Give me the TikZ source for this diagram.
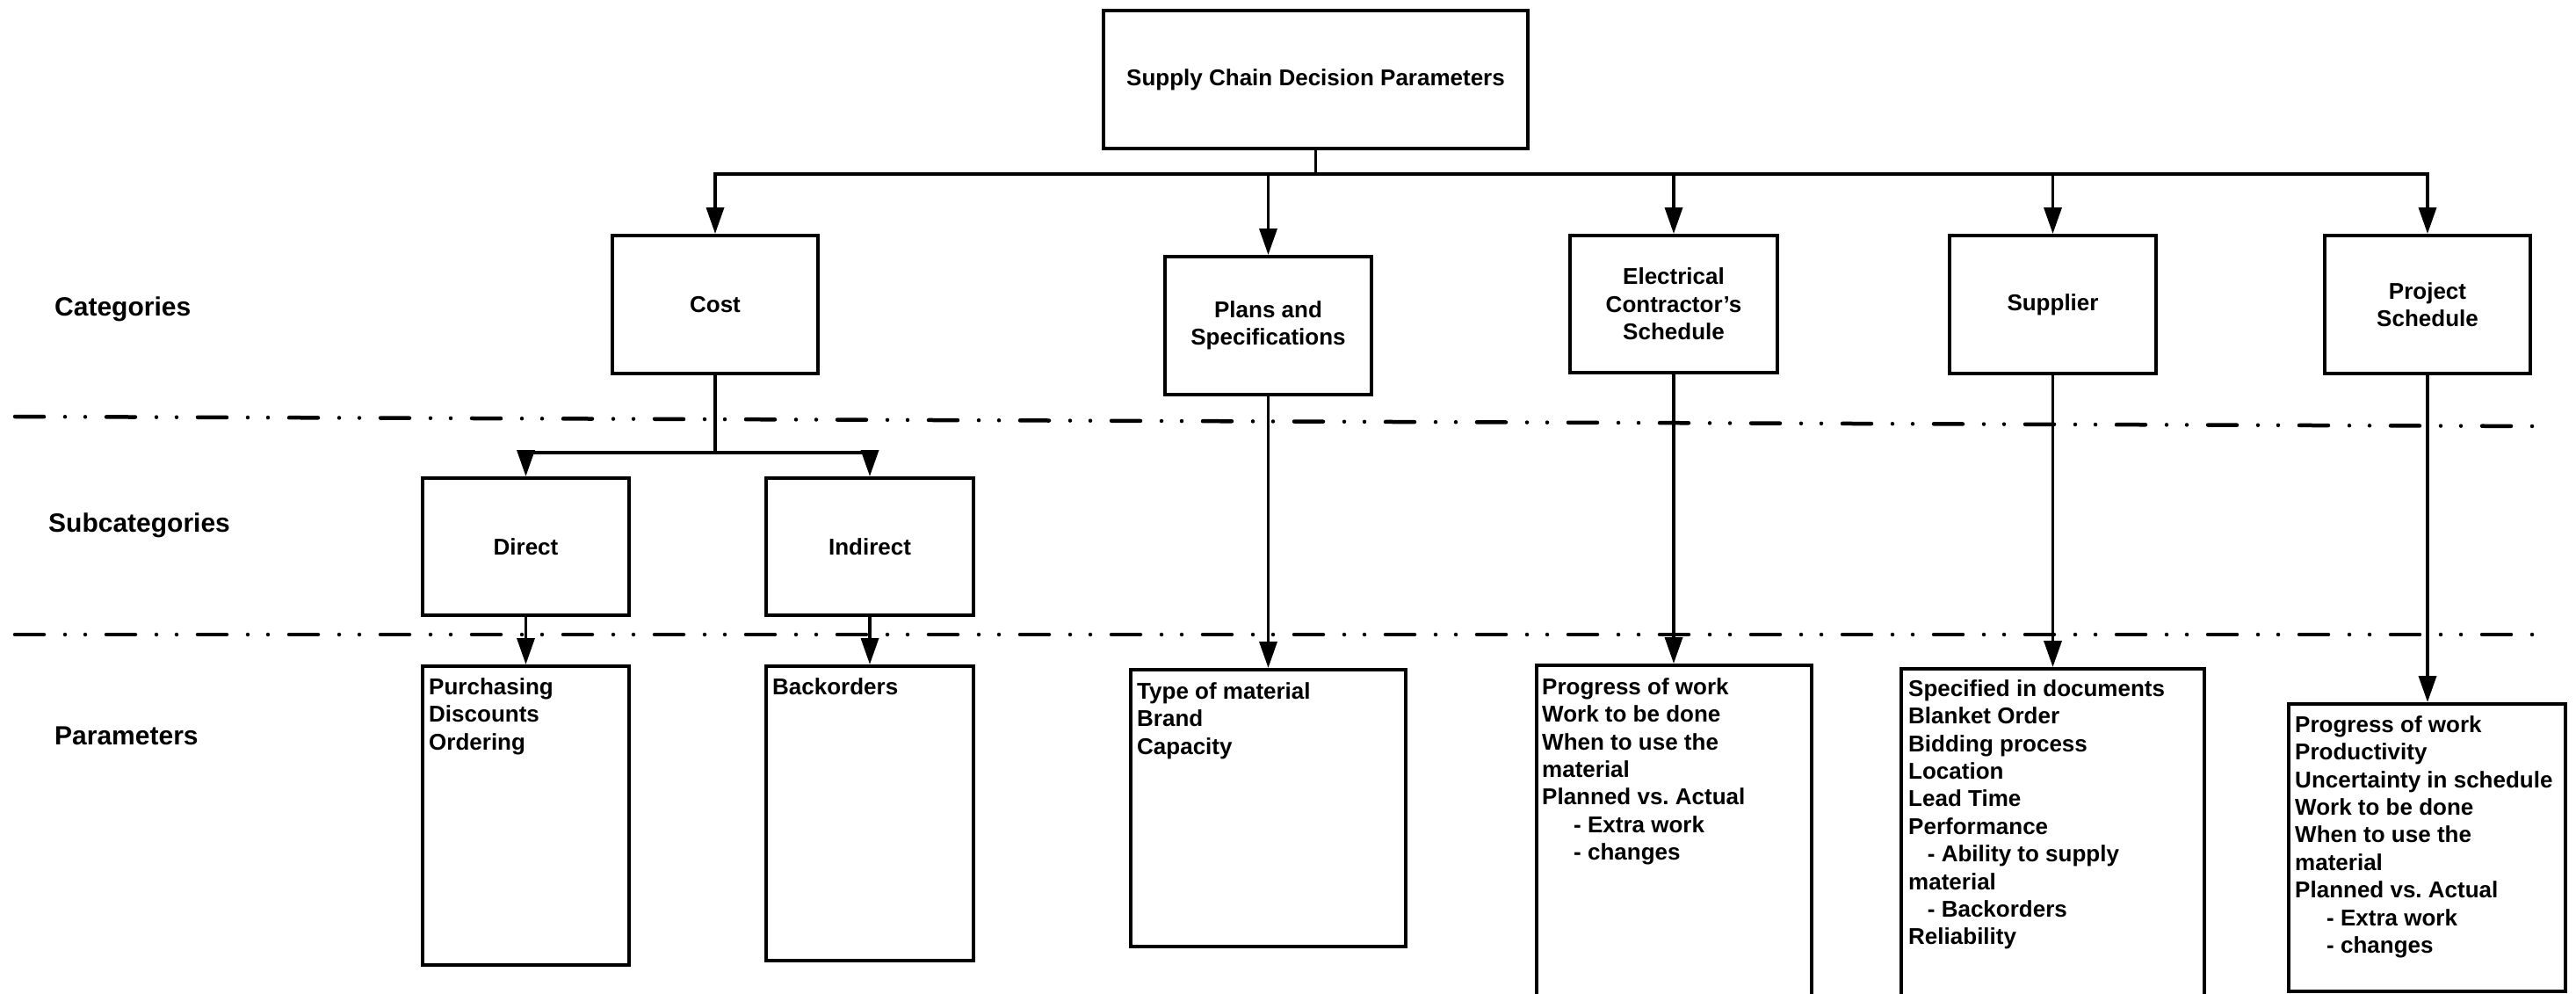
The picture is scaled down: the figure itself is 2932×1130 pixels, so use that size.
\documentclass[tikz,border=0pt]{standalone}
\usepackage{fontspec}
\setmainfont{Liberation Sans}
\usetikzlibrary{arrows.meta}
\frenchspacing
\newcommand{\fl}{\rule{0pt}{20pt}}
\tikzset{
  box/.style={draw, line width=4pt, rectangle, inner sep=0pt, align=center,
    font=\fontsize{26}{31.4}\selectfont\bfseries},
  ptxt/.style={inner sep=0pt, align=left, anchor=north west,
    font=\fontsize{26}{31.4}\selectfont\bfseries},
  lab/.style={inner sep=0pt, anchor=west, font=\fontsize{30}{36}\selectfont\bfseries},
  conn/.style={line width=3.5pt},
  tip/.tip={Triangle[width=20pt,length=30pt]},
  arr/.style={conn, -tip},
  darr/.style={conn, tip-tip},
  sep/.style={line width=4.5pt, line cap=round,
    dash pattern=on 33pt off 24pt on 0pt off 23pt on 0pt off 24pt},
}
\begin{document}
\begin{tikzpicture}[x=1pt, y=-1pt]
\useasboundingbox (0,0) rectangle (2932,1130);
\fill[white] (0,0) rectangle (2932,1130);
\clip (0,0) rectangle (2932,1130);

% separators
\coordinate (s1a) at (17,474);
\coordinate (s1b) at (2895,485);
\coordinate (s2a) at (17,722);
\coordinate (s2b) at (2895,722);
\draw[sep] (s1a) -- (s1b);
\draw[sep] (s2a) -- (s2b);

% row labels
\node[lab] (lcat) at (62,352) {Categories};
\node[lab] (lsub) at (55,598) {Subcategories};
\node[lab] (lpar) at (62,837) {Parameters};

% top
\node[box, minimum width=483pt, minimum height=157pt] (top) at (1497.5,90.5) {Supply Chain Decision Parameters};

% categories
\node[box, minimum width=234pt, minimum height=157pt] (cost) at (814,346.5) {Cost};
\node[box, minimum width=235pt, minimum height=157pt] (plans) at (1443.5,370.5) {Plans and\\Specifications};
\node[box, minimum width=236pt, minimum height=156pt] (elec) at (1905,346) {Electrical\\Contractor’s\\Schedule};
\node[box, minimum width=235pt, minimum height=157pt] (sup) at (2336.5,346.5) {Supplier};
\node[box, minimum width=234pt, minimum height=157pt] (proj) at (2763,346.5) {Project\\Schedule};

% subcategories
\node[box, minimum width=235pt, minimum height=156pt] (dir) at (598.5,622) {Direct};
\node[box, minimum width=236pt, minimum height=156pt] (ind) at (990,622) {Indirect};

% parameter boxes
\node[box, minimum width=235pt, minimum height=340pt] (pur) at (598.5,928) {};
\node[box, minimum width=236pt, minimum height=335pt] (back) at (990,925.5) {};
\node[box, minimum width=313pt, minimum height=315pt] (type) at (1443.5,919.5) {};
\node[box, minimum width=313pt, minimum height=403pt] (epar) at (1905.5,958.5) {};
\node[box, minimum width=345pt, minimum height=399pt] (spar) at (2336.5,960.5) {};
\node[box, minimum width=315pt, minimum height=327pt] (ppar) at (2762.5,964.5) {};

\node[ptxt] (tpur) at ([shift={(9,14)}]pur.north west) {\fl Purchasing\\Discounts\\Ordering};
\node[ptxt] (tback) at ([shift={(9,14)}]back.north west) {\fl Backorders};
\node[ptxt] (ttype) at ([shift={(9,15)}]type.north west) {\fl Type of material\\Brand\\Capacity};
\node[ptxt] (tepar) at ([shift={(8,15)}]epar.north west) {\fl Progress of work\\Work to be done\\When to use the\\material\\Planned vs. Actual\\\hspace*{36pt}- Extra work\\\hspace*{36pt}- changes};
\node[ptxt] (tspar) at ([shift={(10,13)}]spar.north west) {\fl Specified in documents\\Blanket Order\\Bidding process\\Location\\Lead Time\\Performance\\\hspace*{21.7pt}- Ability to supply\\material\\\hspace*{21.7pt}- Backorders\\Reliability};
\node[ptxt] (tppar) at ([shift={(9,14)}]ppar.north west) {\fl Progress of work\\Productivity\\Uncertainty in schedule\\Work to be done\\When to use the\\material\\Planned vs. Actual\\\hspace*{36pt}- Extra work\\\hspace*{36pt}- changes};

% connectors: top to categories
\coordinate (bus) at (1497.5,198);
\draw[conn] (top.south) -- (top.south |- bus);
\draw[darr] (cost.north) |- (proj.north |- bus) -- (proj.north);
\draw[arr] (plans.north |- bus) -- (plans.north);
\draw[arr] (elec.north |- bus) -- (elec.north);
\draw[arr] (sup.north |- bus) -- (sup.north);

% cost split
\coordinate (split) at (814,515);
\draw[conn] (cost.south) -- (split);
\draw[darr] (dir.north) |- (split) -| (ind.north);

% to parameters
\draw[arr] (dir.south) -- (dir.south |- pur.north);
\draw[arr] (ind.south) -- (ind.south |- back.north);
\draw[arr] (plans.south) -- (plans.south |- type.north);
\draw[arr] (elec.south) -- (elec.south |- epar.north);
\draw[arr] (sup.south) -- (sup.south |- spar.north);
\draw[arr] (proj.south) -- (proj.south |- ppar.north);
\end{tikzpicture}
\end{document}
